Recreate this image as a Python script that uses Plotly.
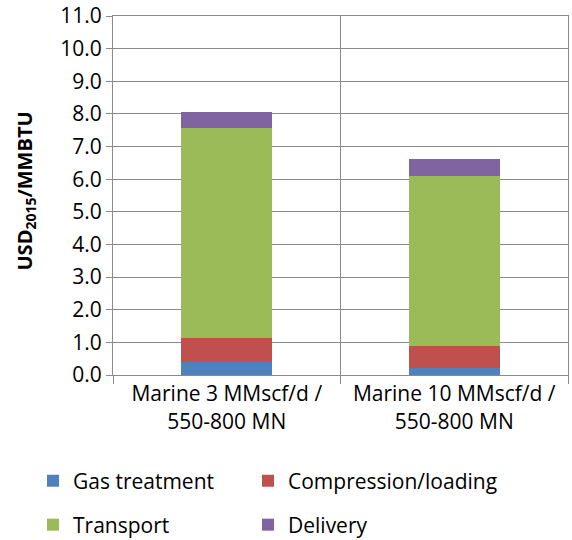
import plotly.graph_objects as go

categories = ["Marine 3 MMscf/d /<br>550-800 MN", "Marine 10 MMscf/d /<br>550-800 MN"]
gas_treatment = [0.41, 0.20]
compression_loading = [0.73, 0.70]
transport = [6.42, 5.21]
delivery = [0.49, 0.50]
y_ticks = [i * 1.0 for i in range(12)]
y_tick_labels = [f"{v:.1f}" for v in y_ticks]

# body margin is removed in the page, so layout coordinates equal page pixels
W, H = 572, 540
ML, MT = 113, 16
PLOT_RIGHT, PLOT_BOTTOM = 568, 375
MR, MB = W - PLOT_RIGHT, H - PLOT_BOTTOM

series = [
    ("Gas treatment", gas_treatment, "#4F81BD", "legend", 25, 481),
    ("Compression/loading", compression_loading, "#C0504D", "legend2", 240, 481),
    ("Transport", transport, "#9BBB59", "legend3", 25, 525),
    ("Delivery", delivery, "#8064A2", "legend4", 240, 525),
]

FONT = "Open Sans, sans-serif"
GRID = "#8a8a8a"

fig = go.Figure()
legends = {}
for name, vals, color, lg, lx, ly in series:
    fig.add_trace(go.Bar(x=categories, y=vals, name=name, legend=lg,
                         marker=dict(color=color, line=dict(width=0)), width=0.4))
    legends[lg] = dict(orientation="h", xref="container", yref="container",
                       x=(lx + 8) / W, y=1 - ly / H,
                       xanchor="left", yanchor="middle",
                       itemwidth=30, font=dict(size=21, family=FONT),
                       bgcolor="rgba(0,0,0,0)")

fig.update_layout(
    barmode="stack",
    width=W, height=H,
    margin=dict(l=ML, r=MR, t=MT, b=MB, autoexpand=False),
    paper_bgcolor="white", plot_bgcolor="white",
    font=dict(family=FONT, size=21, color="black"),
    showlegend=True,
    annotations=[dict(text="<b>USD<sub>2015</sub>/MMBTU</b>", textangle=-90,
                      xref="paper", yref="paper",
                      x=(25 - ML) / (PLOT_RIGHT - ML),
                      y=(PLOT_BOTTOM - 191.5) / (PLOT_BOTTOM - MT),
                      xanchor="center", yanchor="middle", showarrow=False,
                      font=dict(size=20, family=FONT, color="black"))],
    **legends,
)
fig.update_yaxes(
    range=[0, 11], tickvals=y_ticks, ticktext=y_tick_labels,
    showgrid=True, gridcolor=GRID, gridwidth=1,
    showline=True, linecolor=GRID, linewidth=1, mirror=True,
    ticks="outside", ticklen=6, tickcolor=GRID,
    tickfont=dict(size=21, family=FONT), automargin=False,
    ticklabeloverflow="allow",
    zeroline=False,
)
fig.update_xaxes(
    tickson="boundaries", showgrid=True, gridcolor=GRID, gridwidth=1,
    showline=True, linecolor=GRID, linewidth=1, mirror=True,
    ticks="outside", ticklen=8, tickcolor=GRID,
    tickfont=dict(size=21, family=FONT), automargin=False,
    ticklabeloverflow="allow",
    range=[-0.5, 1.5],
)
fig.write_html("out.html", config={"displayModeBar": False},
               post_script="document.body.style.margin='0';")
